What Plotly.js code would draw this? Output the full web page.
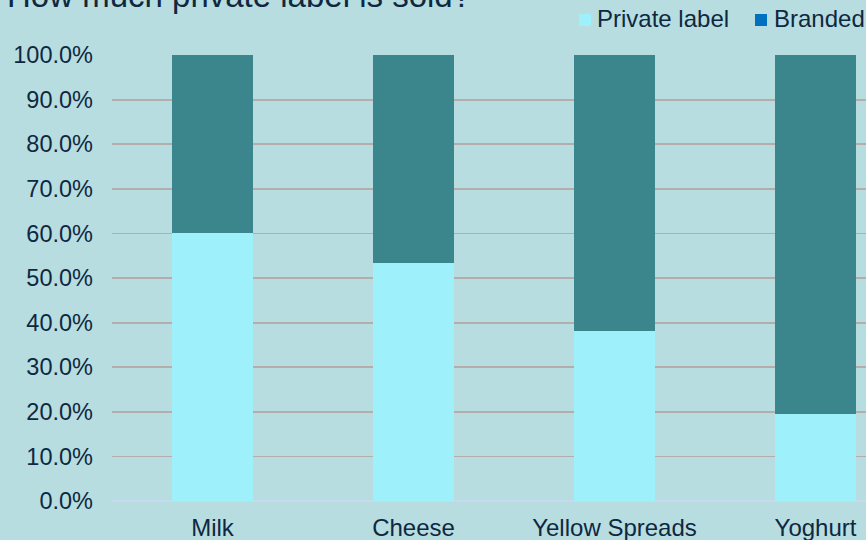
<!DOCTYPE html>
<html>
<head>
<meta charset="utf-8">
<script src="https://cdn.plot.ly/plotly-3.0.1.min.js"></script>
<style>
html, body { margin: 0; padding: 0; overflow: hidden; background: #B7DDE0; }
#chart { width: 920px; height: 540px; }
</style>
</head>
<body>
<div id="chart"></div>
<script>
const categories = ['Milk', 'Cheese', 'Yellow Spreads', 'Yoghurt'];
const privateLabel = [0.600, 0.534, 0.381, 0.196];
const branded = [0.400, 0.466, 0.619, 0.804];
const seriesNames = ['Private label', 'Branded'];
const titleText = 'How much private label is sold?';

const W = 920, H = 540;
const M = { l: 112, r: 4, t: 55, b: 39 };
const pw = W - M.l - M.r, ph = H - M.t - M.b;
const px = x => (x - M.l) / pw;
const py = y => (H - M.b - y) / ph;

const textColor = '#0F2841';
const font = 'Liberation Sans, Arial, sans-serif';

const traces = [
  { type: 'bar', x: categories, y: privateLabel, name: seriesNames[0],
    marker: { color: '#9EF0FA' }, showlegend: false, hoverinfo: 'skip' },
  { type: 'bar', x: categories, y: branded, name: seriesNames[1],
    marker: { color: '#3B868C' }, showlegend: false, hoverinfo: 'skip' }
];

const legendItems = [
  { name: seriesNames[0], color: '#9EF0FA', sq: 579, tx: 595 },
  { name: seriesNames[1], color: '#0070C0', sq: 755, tx: 772 }
];

const shapes = legendItems.map(it => ({
  type: 'rect', xref: 'paper', yref: 'paper',
  x0: px(it.sq), x1: px(it.sq + 12), y0: py(26), y1: py(14),
  fillcolor: it.color, line: { width: 0 }
}));
const annotations = legendItems.map(it => ({
  xref: 'paper', yref: 'paper', x: px(it.tx), y: py(18),
  xanchor: 'left', yanchor: 'middle', text: it.name, showarrow: false,
  font: { family: font, size: 24, color: textColor }
}));

const layout = {
  width: W, height: H,
  margin: M,
  paper_bgcolor: '#B7DDE0',
  plot_bgcolor: '#B7DDE0',
  barmode: 'stack',
  bargap: 0.6,
  showlegend: false,
  title: {
    text: titleText, xref: 'container', yref: 'container',
    x: 7 / W, xanchor: 'left', y: 1 - 7 / H, yanchor: 'bottom',
    font: { family: font, size: 33, color: textColor }
  },
  xaxis: {
    type: 'category', range: [-0.5, 3.5],
    showgrid: false, zeroline: false, showline: false,
    ticks: '', ticklabelstandoff: 10,
    tickfont: { family: font, size: 24, color: textColor }
  },
  yaxis: {
    range: [0, 1], dtick: 0.1, tick0: 0, tickformat: '.1%',
    showgrid: true, gridcolor: '#B3AEAB', gridwidth: 1.8,
    zeroline: true, zerolinecolor: '#C8D8EE', zerolinewidth: 2,
    showline: false, ticks: '', ticklabelstandoff: 18,
    tickfont: { family: font, size: 23.5, color: textColor }
  },
  shapes: shapes,
  annotations: annotations
};

Plotly.newPlot('chart', traces, layout, { displayModeBar: false, staticPlot: true });
</script>
</body>
</html>
